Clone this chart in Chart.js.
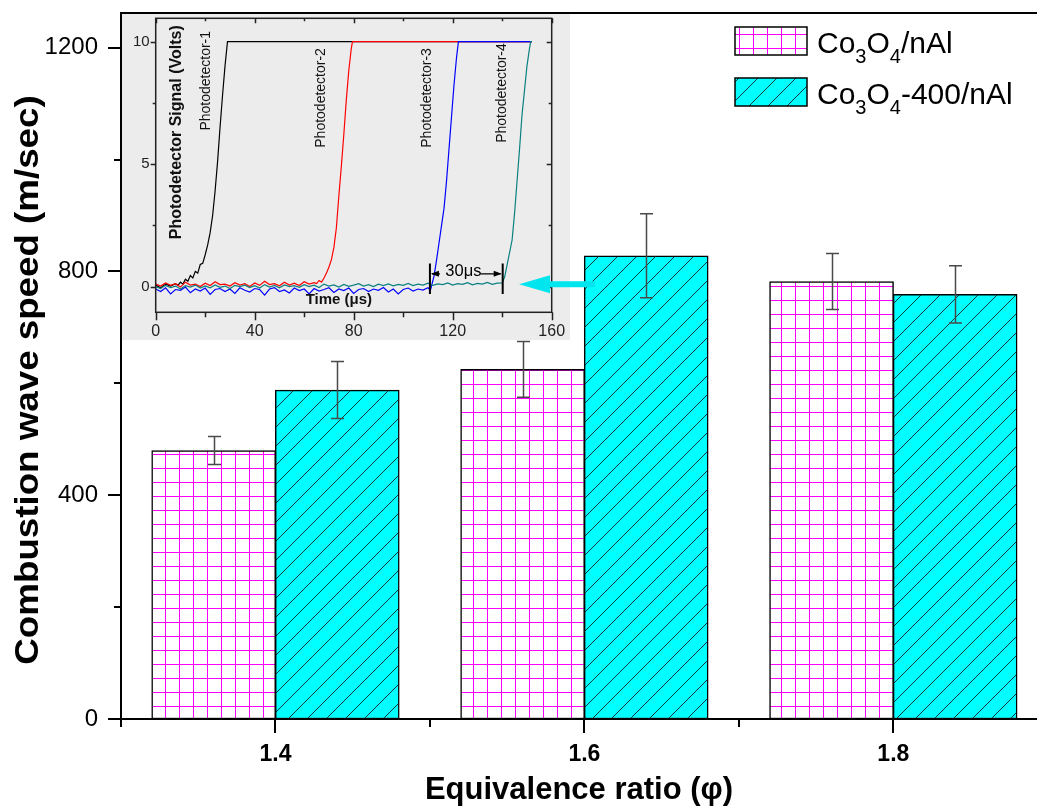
<!DOCTYPE html>
<html>
<head>
<meta charset="utf-8">
<title>Combustion wave speed vs equivalence ratio</title>
<script src="https://cdn.jsdelivr.net/npm/chart.js@4.4.1/dist/chart.umd.min.js"></script>
<style>
  html, body { margin: 0; padding: 0; background: #fff; }
  #wrap { position: relative; width: 1037px; height: 811px; overflow: hidden; }
  #main { position: absolute; left: 0; top: 0; }
  #inset { position: absolute; left: 122px; top: 14px; }
</style>
</head>
<body>
<div id="wrap">
  <canvas id="main" width="1037" height="811"></canvas>
  <canvas id="inset" width="480" height="326"></canvas>
</div>
<script>
// main chart data
const ratios = [1.4, 1.6, 1.8];
const seriesNames = ['Co3O4/nAl', 'Co3O4-400/nAl'];
const legendParts = [['Co', '3', 'O', '4', '/nAl'], ['Co', '3', 'O', '4', '-400/nAl']];
const speedPlain = [480, 625, 782];
const errPlain = [25, 50, 50];
const speedCalc = [588, 828, 759];
const errCalc = [51, 75, 51];
const ratioTicks = [1.3, 1.4, 1.5, 1.6, 1.7, 1.8];
const ratioLabels = [1.4, 1.6, 1.8];
const speedTicks = [0, 200, 400, 600, 800, 1000, 1200];
const speedLabels = [0, 400, 800, 1200];

// inset (photodetector traces)
const detectorNames = ['Photodetector-1', 'Photodetector-2', 'Photodetector-3', 'Photodetector-4'];
const timeTicks = [0, 20, 40, 60, 80, 100, 120, 140, 160];
const timeLabels = [0, 40, 80, 120, 160];
const voltTicks = [0, 2.5, 5, 7.5, 10];
const voltLabels = [0, 5, 10];
const noiseTimes = [0, 2, 4, 6, 8, 10, 12, 14, 16, 18, 20, 22, 24, 26, 28, 30, 32, 34, 36, 38,
  40, 42, 44, 46, 48, 50, 52, 54, 56, 58, 60, 62, 64, 66, 68, 70, 72, 74, 76, 78,
  80, 82, 84, 86, 88, 90, 92, 94, 96, 98, 100, 102, 104, 106, 108, 110, 112, 114, 116, 118,
  120, 122, 124, 126, 128, 130, 132, 134, 136, 138, 140];
const pd1Noise = [0.06, -0.05, 0.1, 0.02, 0.12];
const pd1RiseTimes = [9, 10, 11, 12, 13, 14, 15, 16, 17, 18, 19, 20, 21, 22, 23, 24, 25, 26, 27, 28, 29, 152];
const pd1RiseVolts = [0.05, 0.18, 0.1, 0.3, 0.22, 0.45, 0.35, 0.62, 0.55, 0.9, 0.95, 1.3, 1.7, 2.2, 2.9, 3.9, 5.1, 6.5, 7.8, 9.0, 10, 10];
const pd2Noise = [0.1, 0.02, 0.15, 0.05, 0.12, -0.02, 0.18, 0.06, 0.1, 0.0, 0.14, 0.04, 0.2, 0.08, 0.1, 0.02,
  0.16, 0.06, 0.12, 0.0, 0.15, 0.05, 0.22, 0.08, 0.12, 0.03, 0.18, 0.06, 0.14, 0.04, 0.2, 0.1, 0.16];
const pd2RiseTimes = [65, 66, 67, 68, 69, 70, 71, 72, 73, 74, 75, 76, 77, 78, 79, 79.5, 152];
const pd2RiseVolts = [0.12, 0.25, 0.18, 0.35, 0.55, 0.8, 1.1, 1.6, 2.4, 3.7, 4.9, 6.2, 7.6, 8.8, 9.7, 10, 10];
const pd3Noise = [-0.1, -0.2, -0.05, -0.3, -0.12, -0.15, -0.02, -0.25, -0.1, -0.18,
  -0.06, -0.32, -0.12, -0.08, -0.2, -0.1, -0.28, -0.05, -0.15, -0.22,
  -0.08, -0.12, -0.35, -0.1, -0.04, -0.2, -0.14, -0.26, -0.06, -0.16,
  -0.1, -0.3, -0.08, -0.18, -0.12, -0.05, -0.24, -0.1, -0.16, -0.06,
  -0.28, -0.12, -0.08, -0.2, -0.1, -0.15, -0.04, -0.22, -0.1, -0.3,
  -0.12, -0.06, -0.18, -0.1, -0.14, -0.05];
const pd3RiseTimes = [111, 111.5, 112.5, 113.5, 114.5, 115.5, 116.5, 117.5, 118.5, 119.5, 120.5, 121.5, 122.3, 152];
const pd3RiseVolts = [-0.15, 0.05, 0.45, 1.1, 1.8, 2.5, 3.2, 4.3, 5.6, 6.9, 8.2, 9.3, 10, 10];
const pd4Noise = [0.0, -0.08, 0.05, -0.04, 0.02, -0.1, 0.04, -0.02, 0.06, -0.06,
  0.03, -0.05, 0.07, -0.03, 0.02, -0.08, 0.05, 0.0, 0.06, -0.04,
  0.04, -0.06, 0.08, -0.02, 0.05, -0.05, 0.07, 0.0, 0.04, -0.03,
  0.08, 0.0, 0.06, -0.04, 0.1, 0.02, 0.07, -0.02, 0.09, 0.01,
  0.06, 0.12, 0.02, 0.08, 0.0, 0.1, 0.04, 0.11, 0.03, 0.09,
  0.05, 0.13, 0.04, 0.1, 0.06, 0.14, 0.05, 0.11, 0.08, 0.15,
  0.06, 0.12, 0.09, 0.16, 0.07, 0.13, 0.1, 0.17, 0.09, 0.14, 0.15];
const pd4RiseTimes = [141, 142, 143, 144, 145, 146, 147, 148, 149, 150, 151, 151.5, 152];
const pd4RiseVolts = [0.4, 0.9, 1.4, 1.9, 3.0, 4.3, 5.6, 7.0, 8.0, 9.0, 9.7, 10, 10];
const gapStart = 110.8;
const gapEnd = 140.2;

const FONT = 'Arial, "Liberation Sans", sans-serif';
Chart.defaults.font.family = FONT;
Chart.defaults.color = '#000';

function trace(noise, riseT, riseV) {
  return noise.map((v, i) => ({ x: noiseTimes[i], y: v }))
    .concat(riseT.map((t, i) => ({ x: t, y: riseV[i] })));
}

// keep plot areas fixed: drop the extra room Chart.js reserves for edge labels
function fitY(width) {
  return (s) => { s.width = width; s.paddingTop = 0; s.paddingBottom = 0; };
}
function fitX(height) {
  return (s) => { s.height = height; s.paddingLeft = 0; s.paddingRight = 0; };
}

function gridPattern(ctx) {
  const c = document.createElement('canvas');
  c.width = 14; c.height = 14;
  const g = c.getContext('2d');
  g.fillStyle = '#fff';
  g.fillRect(0, 0, 14, 14);
  g.fillStyle = '#ff00ff';
  g.fillRect(0, 0, 1, 14);
  g.fillRect(0, 0, 14, 1);
  const p = ctx.createPattern(c, 'repeat');
  p.setTransform(new DOMMatrix([1, 0, 0, 1, 11, 6]));
  return p;
}

function hatchPattern(ctx) {
  const s = 19;
  const c = document.createElement('canvas');
  c.width = s; c.height = s;
  const g = c.getContext('2d');
  g.fillStyle = '#00ffff';
  g.fillRect(0, 0, s, s);
  g.strokeStyle = '#163a3a';
  g.lineWidth = 1;
  g.beginPath();
  g.moveTo(0, s); g.lineTo(s, 0);
  g.moveTo(-2, 2); g.lineTo(2, -2);
  g.moveTo(s - 2, s + 2); g.lineTo(s + 2, s - 2);
  g.stroke();
  return ctx.createPattern(c, 'repeat');
}

const mainCtx = document.getElementById('main').getContext('2d');
const fillPlain = gridPattern(mainCtx);
const fillCalc = hatchPattern(mainCtx);

const mainDecor = {
  id: 'mainDecor',
  afterDatasetsDraw(chart) {
    const { ctx, chartArea: a, scales: { x, y } } = chart;
    ctx.save();
    // error bars
    ctx.strokeStyle = '#4a4a4a';
    ctx.lineWidth = 1.5;
    [[speedPlain, errPlain], [speedCalc, errCalc]].forEach(([vals, errs], d) => {
      chart.getDatasetMeta(d).data.forEach((bar, i) => {
        const cx = Math.round(bar.x) + 0.5;
        const yt = y.getPixelForValue(vals[i] + errs[i]);
        const yb = y.getPixelForValue(vals[i] - errs[i]);
        ctx.beginPath();
        ctx.moveTo(cx, yt); ctx.lineTo(cx, yb);
        ctx.moveTo(cx - 6.5, yt); ctx.lineTo(cx + 6.5, yt);
        ctx.moveTo(cx - 6.5, yb); ctx.lineTo(cx + 6.5, yb);
        ctx.stroke();
      });
    });
    // frame
    ctx.strokeStyle = '#000';
    ctx.lineWidth = 2;
    ctx.beginPath();
    ctx.moveTo(a.right, a.top); ctx.lineTo(a.left, a.top);
    ctx.lineTo(a.left, a.bottom); ctx.lineTo(a.right, a.bottom);
    speedTicks.forEach((v) => {
      const py = Math.round(y.getPixelForValue(v));
      const len = speedLabels.includes(v) ? 13 : 7;
      ctx.moveTo(a.left - len, py); ctx.lineTo(a.left, py);
    });
    ratioTicks.forEach((v) => {
      const px = Math.round(x.getPixelForValue(v));
      const len = ratioLabels.includes(v) ? 14 : 8;
      ctx.moveTo(px, a.bottom); ctx.lineTo(px, a.bottom + len);
    });
    ctx.stroke();
    ctx.restore();
  },
  afterDraw(chart) {
    const { ctx, chartArea: a } = chart;
    ctx.save();
    // y title
    ctx.translate(29, (a.top + a.bottom) / 2 + 14);
    ctx.rotate(-Math.PI / 2);
    ctx.scale(1.08, 1);
    ctx.font = 'bold 34px ' + FONT;
    ctx.textAlign = 'center';
    ctx.textBaseline = 'middle';
    ctx.fillStyle = '#000';
    ctx.fillText('Combustion wave speed (m/sec)', 0, 0);
    ctx.restore();

    // legend with subscripts
    ctx.save();
    const fills = [fillPlain, fillCalc];
    legendParts.forEach((parts, k) => {
      const top = 27 + k * 51;
      ctx.fillStyle = fills[k];
      ctx.fillRect(735, top, 72, 28);
      ctx.strokeStyle = '#000';
      ctx.lineWidth = 1.5;
      ctx.strokeRect(735, top, 72, 28);
      let tx = 817;
      const base = top + 26;
      ctx.fillStyle = '#000';
      ctx.textBaseline = 'alphabetic';
      ctx.textAlign = 'left';
      parts.forEach((p, j) => {
        const sub = j % 2 === 1;
        ctx.font = (sub ? '20px ' : '30px ') + FONT;
        ctx.fillText(p, tx, sub ? base + 10 : base);
        tx += ctx.measureText(p).width;
      });
    });
    ctx.restore();
  }
};

new Chart(mainCtx, {
  type: 'bar',
  data: {
    datasets: [
      {
        label: seriesNames[0],
        data: ratios.map((r, i) => ({ x: r - 0.04, y: speedPlain[i] })),
        backgroundColor: fillPlain,
        borderColor: '#000',
        borderWidth: 1.5,
        borderSkipped: false,
        barThickness: 124,
        grouped: false
      },
      {
        label: seriesNames[1],
        data: ratios.map((r, i) => ({ x: r + 0.04, y: speedCalc[i] })),
        backgroundColor: fillCalc,
        borderColor: '#000',
        borderWidth: 1.5,
        borderSkipped: false,
        barThickness: 124,
        grouped: false
      }
    ]
  },
  options: {
    responsive: false,
    animation: false,
    devicePixelRatio: 1,
    layout: { padding: { left: 0, top: 13, right: 0, bottom: 0 } },
    plugins: { legend: { display: false }, tooltip: { enabled: false } },
    scales: {
      x: {
        type: 'linear',
        min: 1.3,
        max: 1.893,
        offset: false,
        grid: { display: false, offset: false, drawTicks: false },
        border: { display: false },
        afterBuildTicks: (s) => { s.ticks = ratioTicks.map((v) => ({ value: v })); },
        afterFit: fitX(92),
        ticks: {
          autoSkip: false,
          maxRotation: 0,
          padding: 22,
          font: { size: 23, weight: 'bold' },
          callback: (v) => (ratioLabels.includes(v) ? v.toFixed(1) : '')
        },
        title: {
          display: true,
          text: 'Equivalence ratio (\u03c6)',
          font: { size: 31, weight: 'bold' },
          padding: { top: 0, bottom: 2 }
        }
      },
      y: {
        min: 0,
        max: 1262,
        grid: { display: false, drawTicks: false },
        border: { display: false },
        afterBuildTicks: (s) => { s.ticks = speedTicks.map((v) => ({ value: v })); },
        afterFit: fitY(121),
        ticks: {
          autoSkip: false,
          padding: 23,
          font: { size: 24 },
          callback: (v) => (speedLabels.includes(v) ? String(v) : '')
        }
      }
    }
  },
  plugins: [mainDecor]
});

// inset chart
const insetDecor = {
  id: 'insetDecor',
  beforeDraw(chart) {
    const ctx = chart.ctx;
    ctx.save();
    ctx.fillStyle = '#ececec';
    ctx.fillRect(0, 0, 448, 326);
    ctx.restore();
  },
  afterDraw(chart) {
    const { ctx, chartArea: a, scales: { x, y } } = chart;
    ctx.save();
    ctx.strokeStyle = '#222';
    ctx.lineWidth = 1.5;
    ctx.strokeRect(a.left, a.top, a.right - a.left, a.bottom - a.top);
    ctx.beginPath();
    timeTicks.forEach((v) => {
      const px = Math.round(x.getPixelForValue(v)) + 0.5;
      const major = timeLabels.includes(v);
      ctx.moveTo(px, a.bottom); ctx.lineTo(px, a.bottom + (major ? 8 : 5));
      ctx.moveTo(px, a.top); ctx.lineTo(px, a.top + (major ? 5 : 3));
    });
    voltTicks.forEach((v) => {
      const py = Math.round(y.getPixelForValue(v)) + 0.5;
      const major = voltLabels.includes(v);
      ctx.moveTo(a.left - (major ? 5 : 3), py); ctx.lineTo(a.left, py);
      ctx.moveTo(a.right - (major ? 5 : 3), py); ctx.lineTo(a.right, py);
    });
    ctx.stroke();

    ctx.fillStyle = '#111';
    ctx.textAlign = 'center';
    ctx.textBaseline = 'middle';
    // detector labels, placed in data units
    const labelAt = [[20.3, 8.4], [66.8, 7.7], [109.6, 7.7], [139.9, 7.9]];
    ctx.font = '14px ' + FONT;
    detectorNames.forEach((name, i) => {
      ctx.save();
      ctx.translate(x.getPixelForValue(labelAt[i][0]), y.getPixelForValue(labelAt[i][1]));
      ctx.rotate(-Math.PI / 2);
      ctx.fillText(name, 0, 0);
      ctx.restore();
    });
    // axis titles drawn inside the plot
    ctx.save();
    ctx.translate(x.getPixelForValue(8.6), y.getPixelForValue(6.3));
    ctx.rotate(-Math.PI / 2);
    ctx.font = 'bold 16px ' + FONT;
    ctx.fillText('Photodetector Signal (Volts)', 0, 0);
    ctx.restore();
    ctx.font = 'bold 15px ' + FONT;
    ctx.fillText('Time (\u03bcs)', x.getPixelForValue(74), y.getPixelForValue(-0.55));

    // 30 us bracket
    const xl = x.getPixelForValue(gapStart);
    const xr = x.getPixelForValue(gapEnd);
    const yTop = y.getPixelForValue(0.94);
    const yBot = y.getPixelForValue(-0.3);
    const ya = y.getPixelForValue(0.52);
    ctx.strokeStyle = '#000';
    ctx.fillStyle = '#000';
    ctx.lineWidth = 2;
    ctx.beginPath();
    ctx.moveTo(xl, yTop); ctx.lineTo(xl, yBot);
    ctx.moveTo(xr, yTop); ctx.lineTo(xr, yBot);
    ctx.stroke();
    ctx.lineWidth = 1.2;
    ctx.beginPath();
    ctx.moveTo(xl + 2, ya); ctx.lineTo(xl + 10, ya);
    ctx.moveTo(xr - 22, ya); ctx.lineTo(xr - 2, ya);
    ctx.stroke();
    ctx.beginPath();
    ctx.moveTo(xl + 1, ya); ctx.lineTo(xl + 9, ya - 3); ctx.lineTo(xl + 9, ya + 3); ctx.closePath();
    ctx.moveTo(xr - 1, ya); ctx.lineTo(xr - 9, ya - 3); ctx.lineTo(xr - 9, ya + 3); ctx.closePath();
    ctx.fill();
    ctx.font = '16.5px ' + FONT;
    ctx.fillText('30\u03bcs', x.getPixelForValue(124.3), y.getPixelForValue(0.62));

    // cyan pointer from the bar to the inset trace
    const tipX = x.getPixelForValue(146.8);
    const tipY = y.getPixelForValue(0.1);
    const tailX = x.getPixelForValue(177.5);
    ctx.fillStyle = '#00e5ee';
    ctx.beginPath();
    ctx.moveTo(tipX, tipY);
    ctx.lineTo(tipX + 31, tipY - 9);
    ctx.lineTo(tipX + 31, tipY - 3);
    ctx.lineTo(tailX, tipY - 3);
    ctx.lineTo(tailX, tipY + 3);
    ctx.lineTo(tipX + 31, tipY + 3);
    ctx.lineTo(tipX + 31, tipY + 9);
    ctx.closePath();
    ctx.fill();
    ctx.restore();
  }
};

const traceColors = ['#000000', '#ff0000', '#0000ff', '#0a8080'];
const traces = [
  trace(pd1Noise, pd1RiseTimes, pd1RiseVolts),
  trace(pd2Noise, pd2RiseTimes, pd2RiseVolts),
  trace(pd3Noise, pd3RiseTimes, pd3RiseVolts),
  trace(pd4Noise, pd4RiseTimes, pd4RiseVolts)
];

new Chart(document.getElementById('inset'), {
  type: 'line',
  data: {
    datasets: traces.map((pts, i) => ({
      label: detectorNames[i],
      data: pts,
      borderColor: traceColors[i],
      borderWidth: 1.2,
      pointRadius: 0,
      tension: 0,
      order: 4 - i
    }))
  },
  options: {
    responsive: false,
    animation: false,
    devicePixelRatio: 1,
    layout: { padding: { left: 0, top: 4.3, right: 50.3, bottom: 0 } },
    plugins: { legend: { display: false }, tooltip: { enabled: false } },
    scales: {
      x: {
        type: 'linear',
        min: 0,
        max: 160,
        grid: { display: false, drawTicks: false },
        border: { display: false },
        afterBuildTicks: (s) => { s.ticks = timeTicks.map((v) => ({ value: v })); },
        afterFit: fitX(27.7),
        ticks: {
          autoSkip: false,
          maxRotation: 0,
          padding: 10,
          color: '#222',
          font: { size: 16 },
          callback: (v) => (timeLabels.includes(v) ? String(v) : '')
        }
      },
      y: {
        min: -1.05,
        max: 10.95,
        grid: { display: false, drawTicks: false },
        border: { display: false },
        afterBuildTicks: (s) => { s.ticks = voltTicks.map((v) => ({ value: v })); },
        afterFit: fitY(33.7),
        ticks: {
          autoSkip: false,
          padding: 6,
          color: '#222',
          font: { size: 15 },
          callback: (v) => (voltLabels.includes(v) ? String(v) : '')
        }
      }
    }
  },
  plugins: [insetDecor]
});
</script>
</body>
</html>
